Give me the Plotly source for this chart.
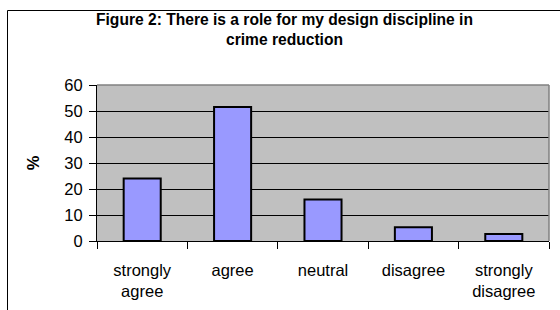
import plotly.graph_objects as go

categories = ["strongly agree", "agree", "neutral", "disagree", "strongly disagree"]
tick_labels = ["strongly<br>agree", "agree", "neutral", "disagree", "strongly<br>disagree"]
values = [24, 51.5, 16, 5.3, 2.7]
y_ticks = [0, 10, 20, 30, 40, 50, 60]

W, H = 560, 310
L, R, T, B = 97, 11, 85, 69
pw, ph = W - L - R, H - T - B

def px_to_paper_x(x):
    return (x - L) / pw

def px_to_paper_y(y):
    return (H - B - y) / ph

fig = go.Figure(go.Bar(
    x=categories, y=values, width=0.41,
    marker=dict(color="#9999FF", line=dict(color="black", width=2)),
))

font = "Liberation Sans, Arial, sans-serif"
fig.update_layout(
    width=W, height=H,
    margin=dict(l=L, r=R, t=T, b=B, autoexpand=False),
    paper_bgcolor="white", plot_bgcolor="#C0C0C0",
    showlegend=False,
    font=dict(family=font, size=16.5, color="black"),
    title=dict(
        text="<b>Figure 2: There is a role for my design discipline in<br>crime reduction</b>",
        x=284.5 / W, xanchor="center", y=1 - 25 / H, yanchor="top",
        font=dict(size=15.6, family=font, color="black"),
    ),
    bargap=0.59,
)
fig.update_xaxes(
    tickvals=categories, ticktext=tick_labels,
    tickson="boundaries", ticks="outside", ticklen=7, tickcolor="black",
    showline=True, linecolor="black", linewidth=1,
    showgrid=False, ticklabelstandoff=14,
)
fig.update_yaxes(
    range=[0, 60], tickvals=y_ticks, ticks="outside", ticklen=7, tickcolor="black",
    showline=True, linecolor="black", linewidth=1,
    showgrid=True, gridcolor="black", gridwidth=1, zeroline=False,
    title=dict(text="<b>%</b>", font=dict(size=16.5), standoff=20),
    ticklabelstandoff=3,
)
shapes = [
    dict(type="line", xref="paper", yref="paper", x0=0, x1=1, y0=1, y1=1,
         line=dict(color="#808080", width=1.5)),
    dict(type="line", xref="paper", yref="paper", x0=1, x1=1, y0=0, y1=1,
         line=dict(color="#808080", width=1.5)),
    dict(type="line", xref="paper", yref="paper",
         x0=px_to_paper_x(7.5), x1=px_to_paper_x(570),
         y0=px_to_paper_y(10.5), y1=px_to_paper_y(10.5),
         line=dict(color="black", width=1)),
    dict(type="line", xref="paper", yref="paper",
         x0=px_to_paper_x(7.5), x1=px_to_paper_x(7.5),
         y0=px_to_paper_y(10.5), y1=px_to_paper_y(320),
         line=dict(color="black", width=1)),
]
fig.update_layout(shapes=shapes)
fig.write_html("out.html", config={"displayModeBar": False},
               post_script="document.body.style.margin='0';")
